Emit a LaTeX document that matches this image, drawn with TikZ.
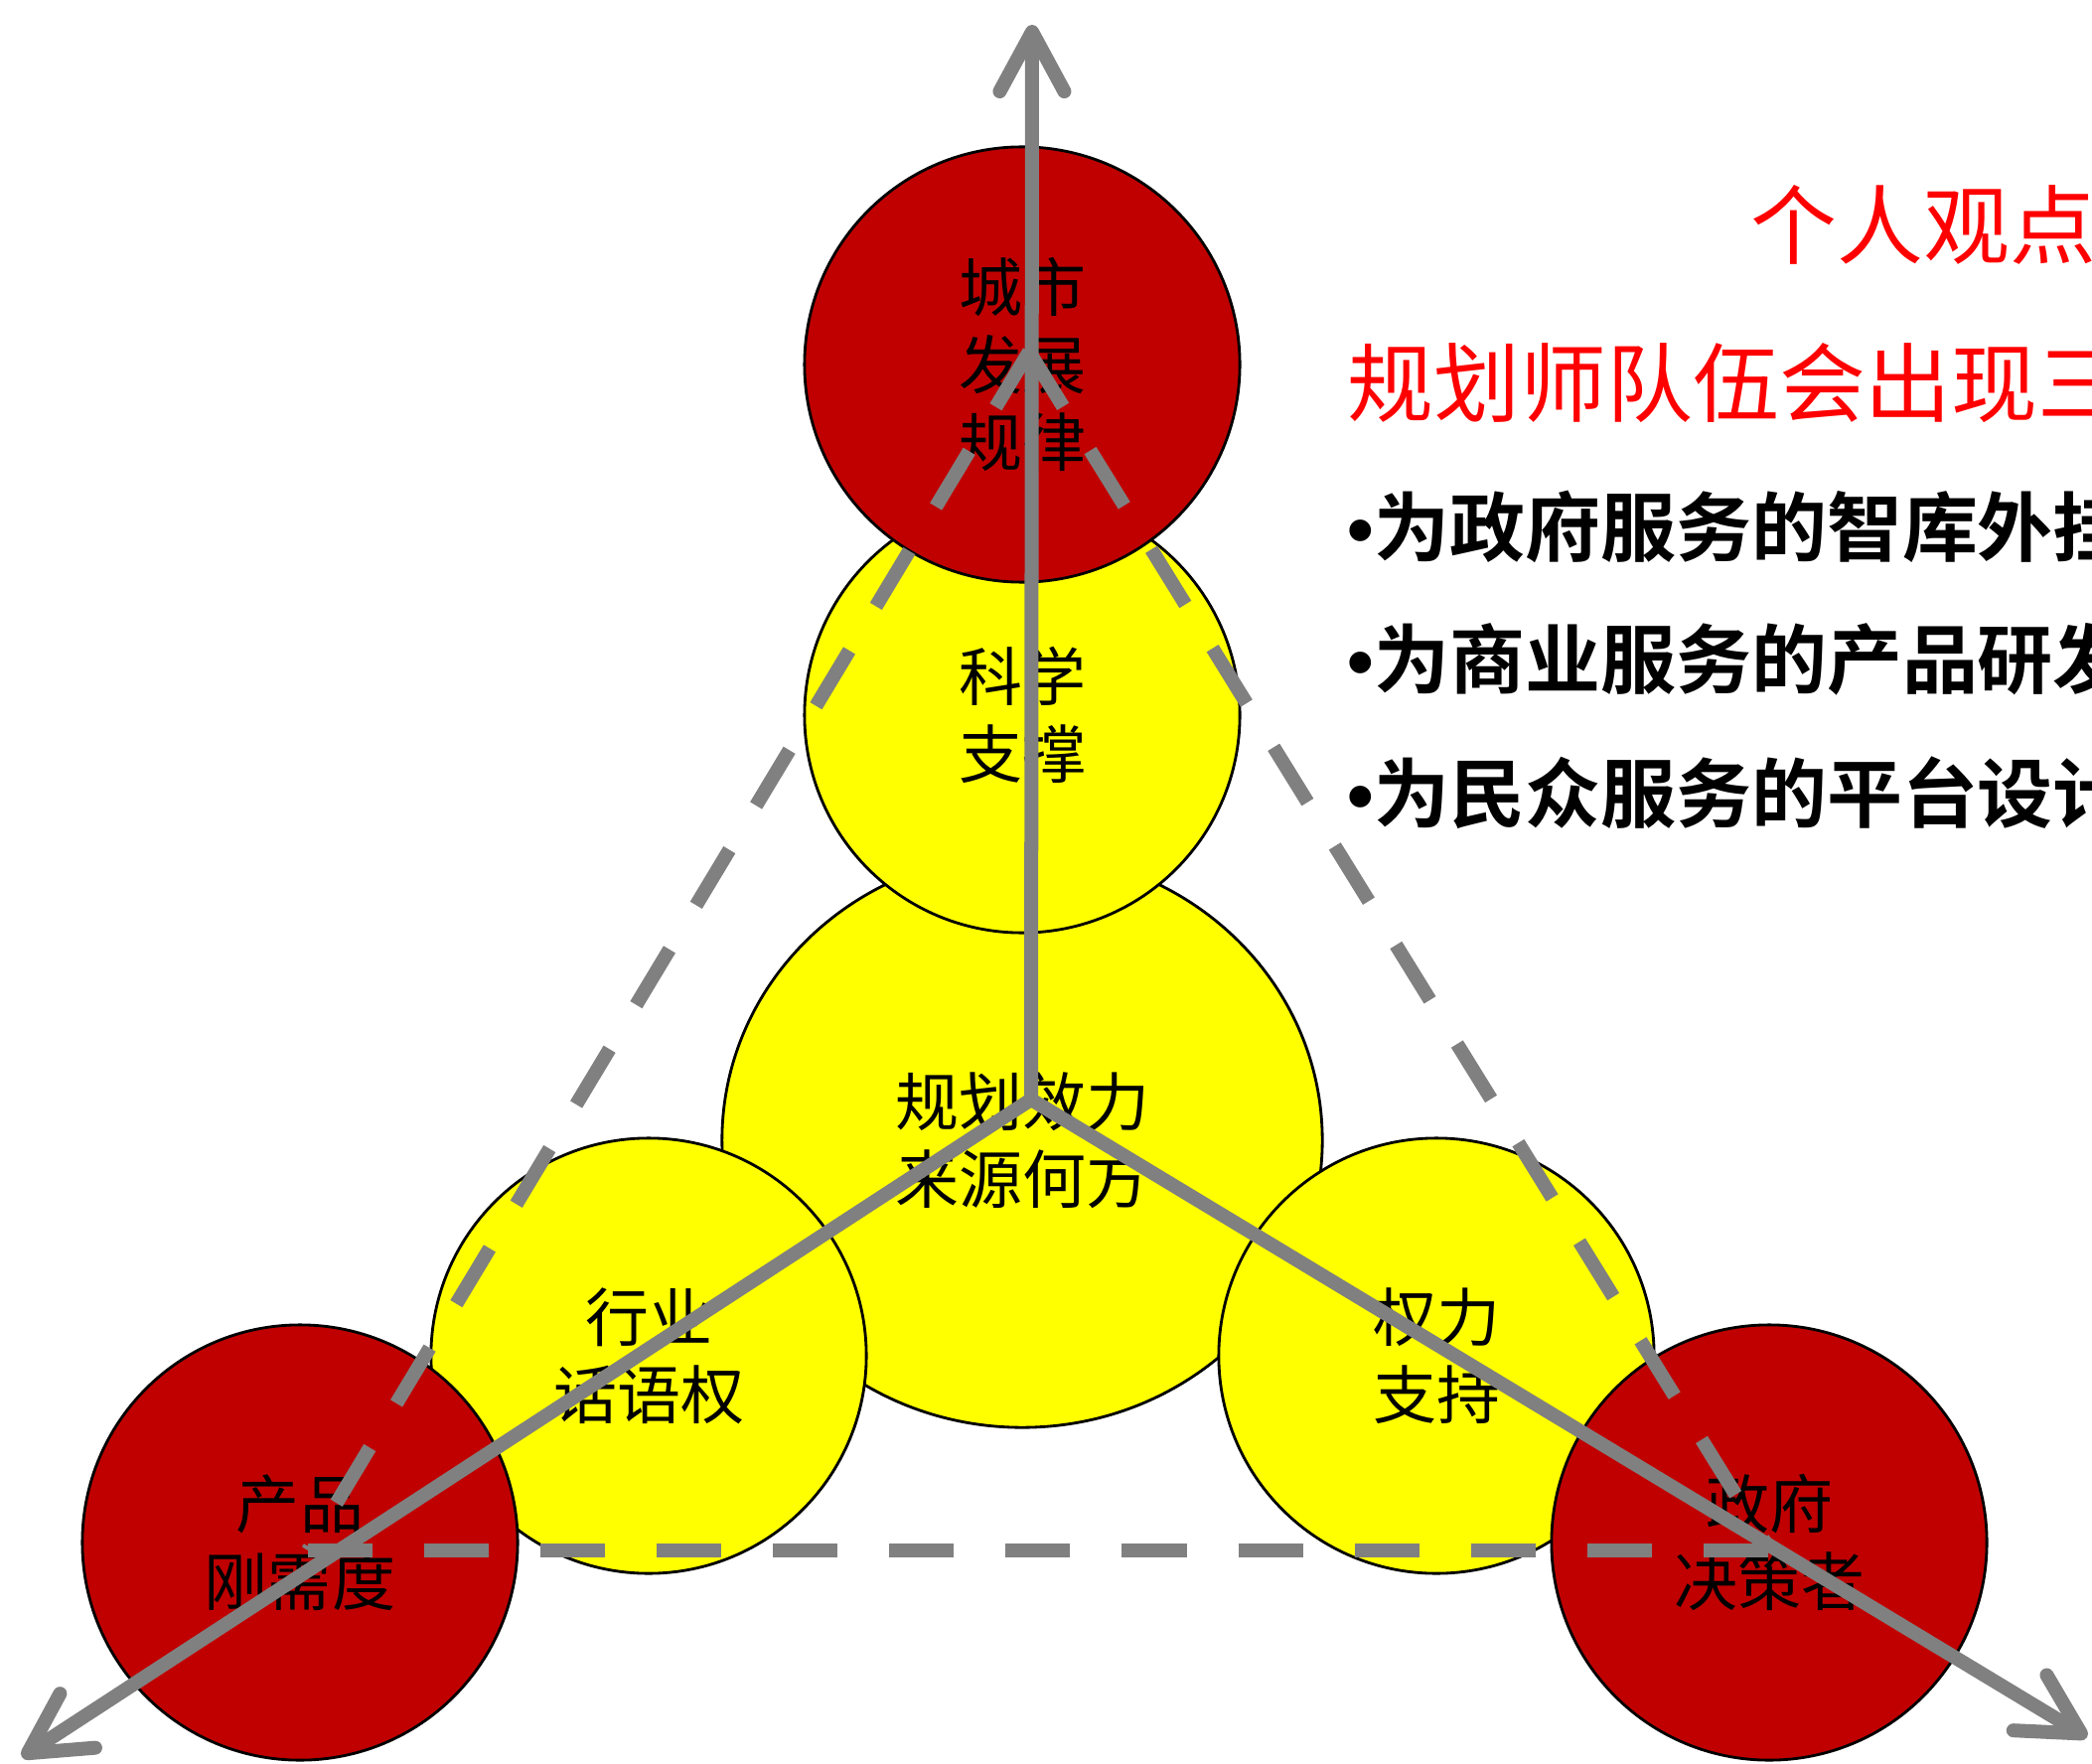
\documentclass[tikz,border=0pt]{standalone}
\usepackage{fontspec}
\newfontfamily\cjk{Noto Sans CJK SC}[BoldFont={* Bold}]
\newfontfamily\latin{Liberation Sans}
\usetikzlibrary{arrows.meta,shapes.geometric}
\definecolor{ballred}{HTML}{C00000}
\definecolor{ballyellow}{HTML}{FFFF00}
\definecolor{axisgray}{HTML}{808080}
\definecolor{notered}{HTML}{FF0000}
\newcommand{\dotmark}{{\latin\bfseries •}}

\begin{document}
\begin{tikzpicture}[x=0.01cm,y=-0.01cm,
  ball/.style={circle,draw=black,line width=0.8pt,inner sep=0pt,minimum size=4.38cm,align=center,
    font=\cjk\fontsize{18.2pt}{22.2pt}\selectfont},
  redball/.style={ball,fill=ballred},
  yellowball/.style={ball,fill=ballyellow},
  axis/.style={draw=axisgray,line width=1.4mm,line cap=round,-{Straight Barb[length=6mm,width=6.5mm,round]}},
  frame/.style={draw=axisgray,line width=1.4mm,dash pattern=on 6.5mm off 5.2mm},
  note/.style={anchor=west,inner sep=0pt,text=notered,font=\cjk\fontsize{24.7pt}{24.7pt}\selectfont},
  point/.style={anchor=west,inner sep=0pt,font=\cjk\bfseries\fontsize{21.6pt}{21.6pt}\selectfont}]
\useasboundingbox (0,0) rectangle (2106,1776);
\clip (0,0) rectangle (2106,1776);
\node[yellowball,ellipse,minimum width=6.04cm,minimum height=5.78cm] (source) at (1029,1148) {规划效力\\来源何方};
\node[yellowball] (science) at (1029,720) {科学\\支撑};
\node[yellowball] (voice) at (653,1365) {行业\\话语权};
\node[yellowball] (power) at (1446,1365) {权力\\支持};
\node[redball] (law) at (1029,367) {城市\\发展\\规律};
\node[redball] (demand) at (302,1553) {产品\\刚需度};
\node[redball] (govt) at (1781,1553) {政府\\决策者};
\coordinate (peak) at (1036,354);
\coordinate (cornerL) at (310,1561);
\coordinate (cornerR) at (1782,1561);
\draw[frame] (peak) -- (cornerL);
\draw[frame] (peak) -- (cornerR);
\draw[frame] (cornerL) -- (cornerR);
\coordinate (hub) at (1038,1107);
\coordinate (tipN) at (1039,25);
\coordinate (tipL) at (22,1769);
\coordinate (tipR) at (2101,1749);
\draw[axis] (hub) -- (tipN);
\draw[axis] (hub) -- (tipL);
\draw[axis] (hub) -- (tipR);
\node[note] (title) at (1762,226) {个人观点};
\node[note] (claim) at (1356,386) {规划师队伍会出现三};
\node[point] (roleA) at (1356,530) {\dotmark 为政府服务的智库外挂};
\node[point] (roleB) at (1356,664) {\dotmark 为商业服务的产品研发};
\node[point] (roleC) at (1356,798) {\dotmark 为民众服务的平台设计};
\end{tikzpicture}
\end{document}
